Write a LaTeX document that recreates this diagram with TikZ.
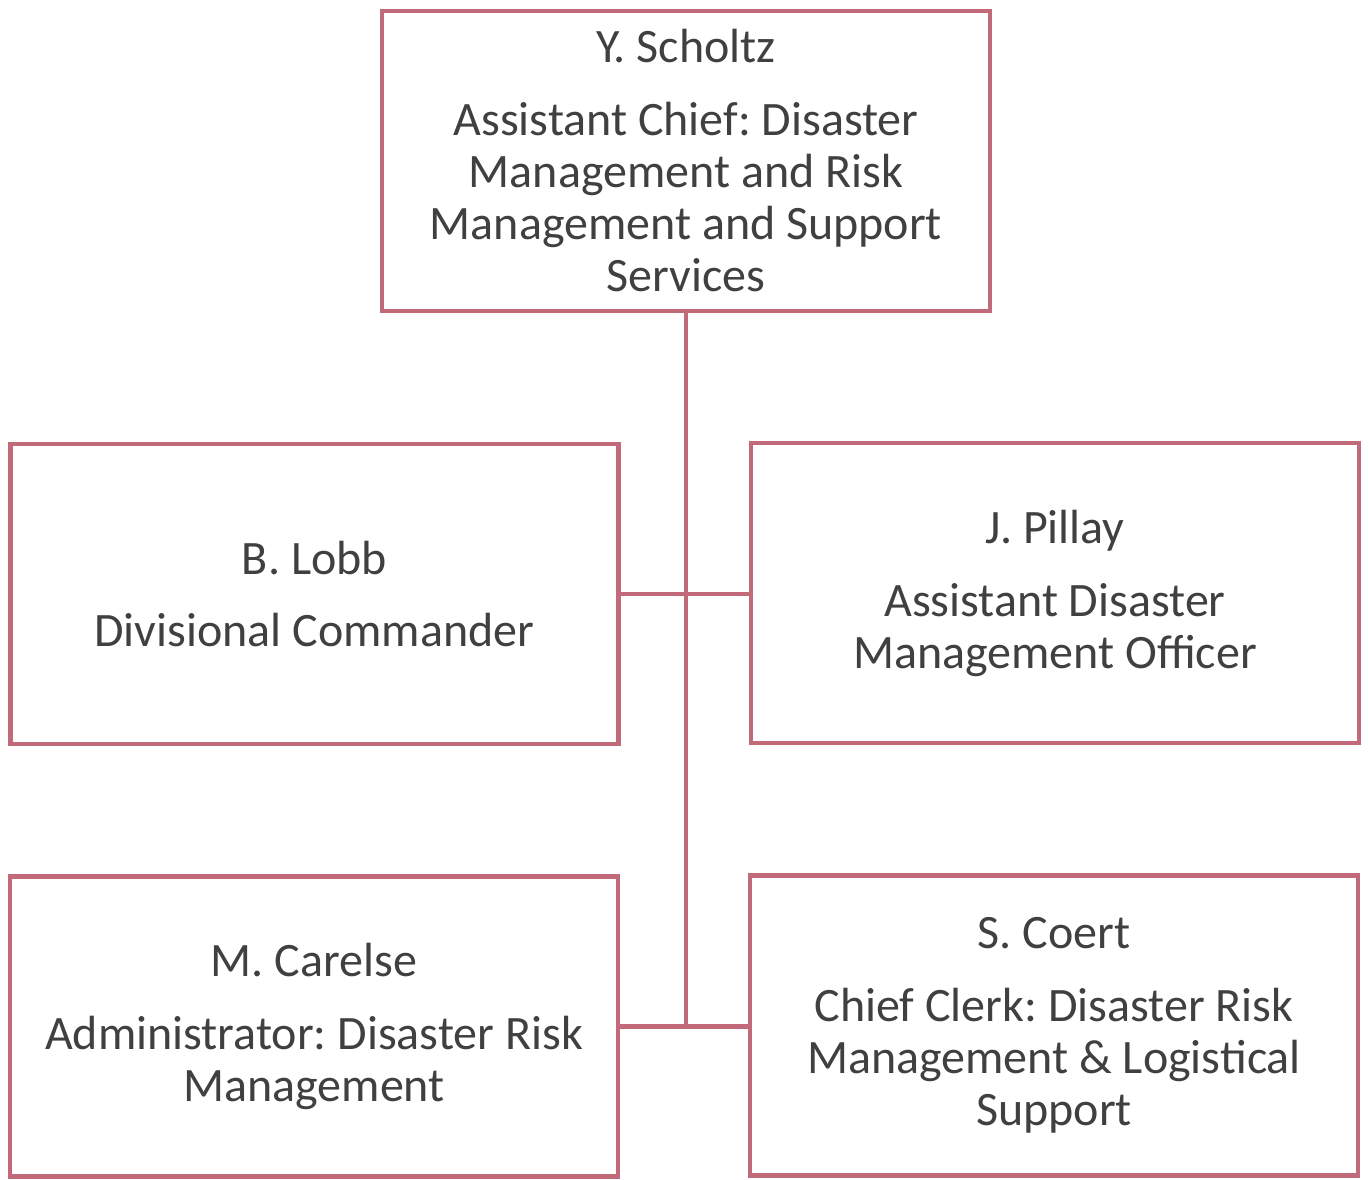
\documentclass[tikz,border=0pt]{standalone}
\usepackage{fontspec}
\setmainfont{Carlito}
\usetikzlibrary{positioning}
\definecolor{boxrose}{HTML}{C26A7A}
\definecolor{textgrey}{HTML}{404040}
\frenchspacing
\tikzset{
	orgbox/.style = {
			draw            = boxrose,
			line width      = 4.6pt,
			text            = textgrey,
			minimum width   = 608pt,
			minimum height  = 300pt,
			align           = center,
			inner sep       = 0pt,
			font            = \fontsize{48}{52}\selectfont,
		},
	link/.style = {
			draw            = boxrose,
			line width      = 4.4pt,
		}
}

\begin{document}
\begin{tikzpicture}[x=1pt,y=-1pt]
	% Page frame
	\useasboundingbox (0,0) rectangle (1369,1179);

	% Head of the section
	\node[orgbox] (scholtz) at (686,161) {Y. Scholtz\\[21pt]Assistant Chief: Disaster\\Management and Risk\\Management and Support\\Services};

	% Second row
	\node[orgbox] (lobb) at (314.5,594) {B. Lobb\\[20pt]Divisional Commander};
	\node[orgbox] (pillay) at (1055,593) {J. Pillay\\[21pt]Assistant Disaster\\Management Officer};

	% Third row
	\node[orgbox] (carelse) at (314,1026.5) {M. Carelse\\[21pt]Administrator: Disaster Risk\\Management};
	\node[orgbox] (coert) at (1054,1025.5) {S. Coert\\[21pt]Chief Clerk: Disaster Risk\\Management \& Logistical\\Support};

	% Connectors
	\coordinate (jb) at (scholtz.south |- carelse.east);
	\draw[link] (scholtz.south) -- (jb);
	\draw[link] (lobb.east) -- (lobb.east -| pillay.west);
	\draw[link] (carelse.east) -- (carelse.east -| coert.west);
\end{tikzpicture}
\end{document}
